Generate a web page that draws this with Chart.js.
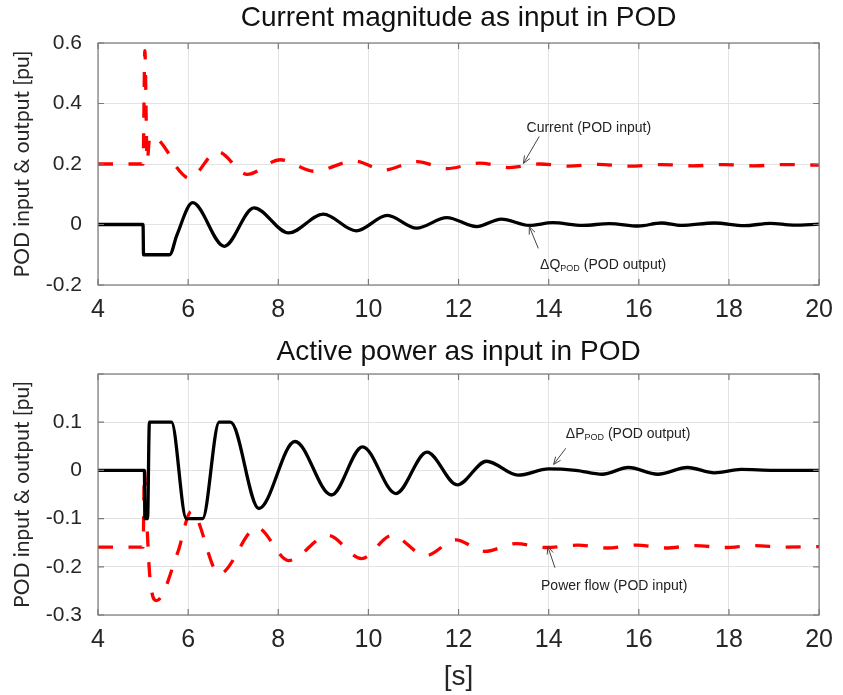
<!DOCTYPE html>
<html>
<head>
<meta charset="utf-8">
<script src="https://cdn.jsdelivr.net/npm/chart.js@4.4.1/dist/chart.umd.min.js"></script>
<style>
    html, body { margin: 0; padding: 0; background: #fff; }
    #wrap { position: relative; width: 843px; height: 695px; }
    canvas { position: absolute; left: 0; }
    #currentChart { top: 0; }
    #powerChart { top: 330px; }
</style>
</head>
<body>
<div id="wrap">
    <canvas id="currentChart" width="843" height="335"></canvas>
    <canvas id="powerChart" width="843" height="365"></canvas>
</div>
<script>
// ==================== DATA ====================
// time axis [s]
const X_MIN = 4;
const X_MAX = 20;
const X_STEP = 2;

// --- top panel: current magnitude as POD input ---
const CURRENT_T = [4, 5.0, 5.04, 5.09, 5.15, 5.3, 5.59, 5.74, 6.03, 6.65, 7.31, 8.04, 8.8, 9.69, 10.35,
    11.08, 11.74, 12.47, 13.13, 13.8, 14.45, 15.1, 15.8, 16.5, 17.2, 17.9, 18.55, 19.25, 20];
const CURRENT_V = [0.2, 0.2, 0.575, 0.21, 0.29, 0.285, 0.23, 0.19, 0.153, 0.241, 0.166, 0.214, 0.176, 0.21, 0.18,
    0.208, 0.185, 0.203, 0.188, 0.2, 0.193, 0.199, 0.193, 0.198, 0.194, 0.198, 0.194, 0.198, 0.196];

const DQ_T = [4, 5.0, 5.01, 5.59, 5.75, 6.1, 6.8, 7.46, 8.23, 9.0, 9.73, 10.42, 11.07, 11.74, 12.4, 12.95, 13.57,
    14.09, 14.75, 15.35, 15.99, 16.5, 16.94, 17.68, 18.34, 18.92, 19.43, 20];
const DQ_V = [0, 0, -0.1, -0.1, -0.035, 0.072, -0.072, 0.055, -0.028, 0.034, -0.021, 0.03, -0.012, 0.023, -0.007, 0.018, -0.003,
    0.006, -0.003, 0.003, -0.005, 0.005, -0.003, 0.005, -0.004, 0.004, -0.002, 0.001];

// --- bottom panel: active power as POD input ---
const POWER_T = [4, 5.0, 5.03, 5.08, 5.15, 5.3, 5.77, 6.07, 6.69, 7.53, 8.23, 9.1, 9.85, 10.52, 11.27, 11.94,
    12.58, 13.28, 13.95, 14.65, 15.3, 15.95, 16.6, 17.25, 17.9, 18.55, 19.25, 20];
const POWER_V = [-0.159, -0.159, 0.0, -0.1, -0.22, -0.27, -0.17, -0.085, -0.215, -0.119, -0.187, -0.135, -0.183, -0.135, -0.177, -0.144,
    -0.168, -0.152, -0.16, -0.155, -0.161, -0.155, -0.161, -0.156, -0.16, -0.156, -0.159, -0.158];

const DP_T = [4, 5.03, 5.04, 5.1, 5.14, 5.63, 5.96, 6.32, 6.69, 6.94, 7.57, 8.37, 9.18, 9.87, 10.61, 11.3, 11.97,
    12.62, 13.32, 14.0, 14.6, 15.19, 15.77, 16.42, 17.08, 17.68, 18.27, 19.0, 20];
const DP_V = [0, 0, -0.1, -0.1, 0.1, 0.1, -0.1, -0.1, 0.1, 0.1, -0.079, 0.06, -0.051, 0.049, -0.048, 0.038, -0.03,
    0.019, -0.01, 0.003, 0.0, -0.008, 0.006, -0.008, 0.006, -0.005, 0.002, 0.0, 0.0];

// ==================== ANNOTATIONS (data coords) ====================
const CURRENT_NOTES = [
    { main: 'Current (POD input)', sub: '', tail: '', at: [14.89, 0.317], align: 'center',
      arrow: [[13.79, 0.291], [13.44, 0.202]] },
    { main: '\u0394Q', sub: 'POD', tail: ' (POD output)', at: [13.81, -0.136], align: 'left',
      arrow: [[13.77, -0.079], [13.57, -0.007]] }
];
const POWER_NOTES = [
    { main: '\u0394P', sub: 'POD', tail: ' (POD output)', at: [14.38, 0.075], align: 'left',
      arrow: [[14.38, 0.046], [14.11, 0.0125]] },
    { main: 'Power flow (POD input)', sub: '', tail: '', at: [13.83, -0.24], align: 'left',
      arrow: [[14.14, -0.202], [13.98, -0.158]] }
];

const FONT = "'Liberation Sans', Arial, sans-serif";
const RED = '#ff0000';
const BLACK = '#000000';

function toPoints(ts, vs) {
    return ts.map((t, i) => ({ x: t, y: vs[i] }));
}

// ==================== PLUGINS ====================
// MATLAB-like box with inward ticks
const boxPlugin = {
    id: 'matlabBox',
    afterDatasetsDraw(chart) {
        const { ctx, chartArea: a, scales } = chart;
        const len = 6;
        ctx.save();
        ctx.strokeStyle = '#7a7a7a';
        ctx.lineWidth = 1.2;
        ctx.strokeRect(a.left, a.top, a.right - a.left, a.bottom - a.top);
        ctx.beginPath();
        scales.x.ticks.forEach(t => {
            const px = scales.x.getPixelForValue(t.value);
            ctx.moveTo(px, a.bottom); ctx.lineTo(px, a.bottom - len);
            ctx.moveTo(px, a.top); ctx.lineTo(px, a.top + len);
        });
        scales.y.ticks.forEach(t => {
            const py = scales.y.getPixelForValue(t.value);
            ctx.moveTo(a.left, py); ctx.lineTo(a.left + len, py);
            ctx.moveTo(a.right, py); ctx.lineTo(a.right - len, py);
        });
        ctx.stroke();
        ctx.restore();
    }
};

function drawArrow(ctx, x1, y1, x2, y2) {
    const ang = Math.atan2(y2 - y1, x2 - x1);
    const head = 8;
    ctx.beginPath();
    ctx.moveTo(x1, y1);
    ctx.lineTo(x2, y2);
    ctx.moveTo(x2 - head * Math.cos(ang - 0.4), y2 - head * Math.sin(ang - 0.4));
    ctx.lineTo(x2, y2);
    ctx.lineTo(x2 - head * Math.cos(ang + 0.4), y2 - head * Math.sin(ang + 0.4));
    ctx.stroke();
}

const notesPlugin = {
    id: 'notes',
    afterDraw(chart, args, opts) {
        const { ctx, scales: { x, y } } = chart;
        ctx.save();
        (opts.items || []).forEach(n => {
            ctx.strokeStyle = '#444';
            ctx.lineWidth = 1;
            drawArrow(ctx,
                x.getPixelForValue(n.arrow[0][0]), y.getPixelForValue(n.arrow[0][1]),
                x.getPixelForValue(n.arrow[1][0]), y.getPixelForValue(n.arrow[1][1]));

            const big = `14px ${FONT}`;
            const small = `9px ${FONT}`;
            ctx.font = big;
            const w1 = ctx.measureText(n.main).width;
            const w3 = ctx.measureText(n.tail).width;
            ctx.font = small;
            const w2 = n.sub ? ctx.measureText(n.sub).width : 0;
            const total = w1 + w2 + w3;
            let px = x.getPixelForValue(n.at[0]);
            const py = y.getPixelForValue(n.at[1]);
            if (n.align === 'center') px -= total / 2;

            ctx.fillStyle = '#222';
            ctx.textBaseline = 'middle';
            ctx.textAlign = 'left';
            ctx.font = big;
            ctx.fillText(n.main, px, py);
            if (n.sub) {
                ctx.font = small;
                ctx.fillText(n.sub, px + w1, py + 3);
            }
            ctx.font = big;
            ctx.fillText(n.tail, px + w1 + w2, py);
        });
        ctx.restore();
    }
};

// ==================== CHART BUILDER ====================
function tickFmt(hideAbove) {
    return v => {
        if (hideAbove !== undefined && v > hideAbove) return '';
        const r = Math.round(v * 10) / 10;
        return r === 0 ? '0' : String(r);
    };
}

function buildChart(id, cfg) {
    return new Chart(document.getElementById(id), {
        type: 'line',
        data: {
            datasets: [
                {
                    data: toPoints(cfg.blackT, cfg.blackV),
                    borderColor: BLACK,
                    borderWidth: 3.3,
                    pointRadius: 0,
                    cubicInterpolationMode: 'monotone',
                    fill: false
                },
                {
                    data: toPoints(cfg.redT, cfg.redV),
                    borderColor: RED,
                    borderWidth: 3.3,
                    borderDash: [15, 15.5],
                    pointRadius: 0,
                    cubicInterpolationMode: 'monotone',
                    fill: false
                }
            ]
        },
        options: {
            responsive: false,
            animation: false,
            layout: { padding: { left: 0, right: 18, top: 0, bottom: 0 } },
            plugins: {
                legend: { display: false },
                tooltip: { enabled: false },
                title: {
                    display: true,
                    fullSize: false,
                    text: cfg.title,
                    color: '#111',
                    font: { family: FONT, size: 28, weight: 'normal', lineHeight: 1.2 },
                    padding: cfg.titlePad
                },
                notes: { items: cfg.notes }
            },
            scales: {
                x: {
                    type: 'linear',
                    min: X_MIN,
                    max: X_MAX,
                    afterFit: s => { s.height = cfg.xHeight; },
                    border: { display: false },
                    grid: { color: '#e3e3e3', lineWidth: 1, drawTicks: false },
                    ticks: {
                        stepSize: X_STEP,
                        padding: 10,
                        color: '#262626',
                        font: { family: FONT, size: 25 },
                        maxRotation: 0,
                        callback: v => String(v)
                    },
                    title: cfg.xTitle ? {
                        display: true,
                        text: cfg.xTitle,
                        color: '#262626',
                        font: { family: FONT, size: 28, lineHeight: 1.2 },
                        padding: { top: 0, bottom: 1 }
                    } : { display: false }
                },
                y: {
                    min: cfg.yMin,
                    max: cfg.yMax,
                    afterFit: s => { s.width = 98; },
                    border: { display: false },
                    grid: { color: '#e3e3e3', lineWidth: 1, drawTicks: false },
                    ticks: {
                        stepSize: cfg.yStep,
                        padding: 16,
                        color: '#262626',
                        font: { family: FONT, size: 21 },
                        callback: tickFmt(cfg.hideAbove)
                    },
                    title: {
                        display: true,
                        text: 'POD input & output [pu]',
                        color: '#262626',
                        font: { family: "Lato, 'Open Sans', sans-serif", size: 21, lineHeight: 1.2 },
                        padding: { top: 10, bottom: 0 }
                    }
                }
            }
        },
        plugins: [boxPlugin, notesPlugin]
    });
}

buildChart('currentChart', {
    title: 'Current magnitude as input in POD',
    titlePad: { top: 1, bottom: 8.4 },
    yMin: -0.2, yMax: 0.6, yStep: 0.2,
    xHeight: 50,
    blackT: DQ_T, blackV: DQ_V,
    redT: CURRENT_T, redV: CURRENT_V,
    notes: CURRENT_NOTES
});

buildChart('powerChart', {
    title: 'Active power as input in POD',
    titlePad: { top: 5, bottom: 5.4 },
    yMin: -0.3, yMax: 0.2, yStep: 0.1,
    hideAbove: 0.15,
    xHeight: 80,
    xTitle: '[s]',
    blackT: DP_T, blackV: DP_V,
    redT: POWER_T, redV: POWER_V,
    notes: POWER_NOTES
});
</script>
</body>
</html>
